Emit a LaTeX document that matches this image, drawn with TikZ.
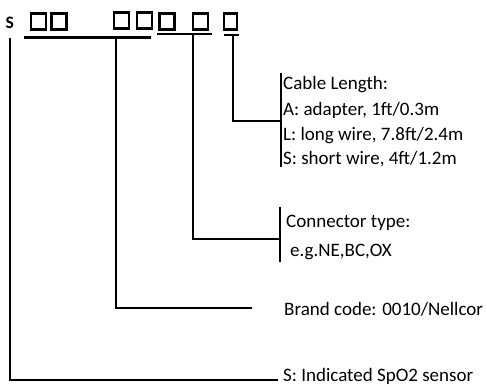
\documentclass[tikz,border=0pt]{standalone}
\usepackage{fontspec}
\setmainfont{Carlito}
\begin{document}
\begin{tikzpicture}[x=1pt,y=-1pt,
  lbl/.style={anchor=base west, inner sep=0pt, font=\fontsize{19}{23}\selectfont},
  box/.style={draw, line width=2.4pt, minimum width=15pt, minimum height=16pt, inner sep=0pt},
  conn/.style={line width=1.6pt},
  bar/.style={line width=2.4pt}]
\useasboundingbox (0,0) rectangle (487,386);
% code letter and boxes
\node[anchor=base west, inner sep=0pt, font=\fontsize{17.5}{21}\selectfont\bfseries] (S) at (5.5,28.5) {S};
\node[box] (b1) at (38.5,21.5) {};
\node[box] (b2) at (59,21.5) {};
\node[box] (b3) at (121.5,20.5) {};
\node[box] (b4) at (144.5,20.5) {};
\node[box] (b5) at (167,21.5) {};
\node[box] (b6) at (200.5,21.5) {};
\node[box, minimum width=13pt] (b7) at (230.5,21.5) {};
% underlines
\coordinate (u1a) at (24,37);  \coordinate (u1b) at (151,37);
\coordinate (u2a) at (157,34); \coordinate (u2b) at (212,34);
\coordinate (u3a) at (224,34.5); \coordinate (u3b) at (239,34.5);
\draw[line width=3pt] (u1a) -- (u1b);
\draw[line width=1.6pt] (u2a) -- (u2b);
\draw[line width=2pt] (u3a) -- (u3b);
% connector start points
\coordinate (s1) at (10,38);
\coordinate (s2) at (116,38.5);
\coordinate (s3) at (193,35);
\coordinate (s4) at (233,35);
% connector end points
\coordinate (e1) at (278,380);
\coordinate (e2) at (252,308);
\coordinate (e3) at (280,239);
\coordinate (e4) at (281,121);
% bars
\coordinate (bar3a) at (280,207); \coordinate (bar3b) at (280,262);
\coordinate (bar4a) at (281,72.5); \coordinate (bar4b) at (281,167);
\draw[bar] (bar3a) -- (bar3b);
\draw[bar] (bar4a) -- (bar4b);
\draw[conn] (s1) |- (e1);
\draw[conn] (s2) |- (e2);
\draw[conn] (s3) |- (e3);
\draw[conn] (s4) |- (e4);
% texts
\node[lbl] (t1) at (283,89.5) {Cable Length:};
\node[lbl] (t2) at (283,115) {A: adapter, 1ft/0.3m};
\node[lbl] (t3) at (283,140) {L: long wire, 7.8ft/2.4m};
\node[lbl] (t4) at (283,164.5) {S: short wire, 4ft/1.2m};
\node[lbl] (t5) at (286,227.7) {Connector type:};
\node[lbl] (t6) at (290,256.7) {e.g.NE,BC,OX};
\node[lbl] (t7) at (284,315) {Brand code: 0010/Nellcor};
\node[lbl] (t8) at (283,381.5) {S: Indicated SpO2 sensor};
\end{tikzpicture}
\end{document}
